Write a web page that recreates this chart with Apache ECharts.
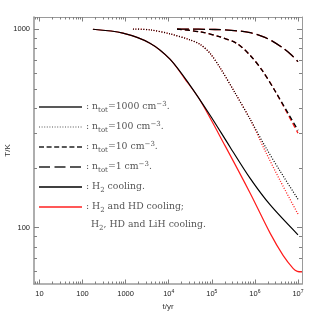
<!DOCTYPE html>
<html><head><meta charset="utf-8">
<script src="https://cdn.jsdelivr.net/npm/echarts@6/dist/echarts.min.js"></script>
<style>html,body{margin:0;padding:0;background:#fff}#c{width:319px;height:319px}</style>
</head><body><div id="c"></div>
<script>
// ---- data: [t (yr), T (K)] ----
const n1000_H2 = [[174,998],[865,954],[3670,849],[10700,705],[31300,521],[91300,368],[267000,254],[778000,177],[2270000,130],[10000000,92]];
const n1000_HD = [[174,998],[865,954],[3670,849],[10700,705],[23900,560],[53500,438],[204000,258],[778000,149],[2270000,93.5],[4550000,72.3],[7780000,62.2],[9630000,60.2],[12400000,59.8]];
const n100_H2 = [[1480,1000],[3670,991],[10700,946],[31300,882],[53500,837],[91300,754],[156000,638],[348000,476],[778000,351],[1740000,256],[3880000,192],[10000000,139]];
const n100_HD = [[1480,1000],[3670,991],[10700,946],[31300,882],[53500,837],[91300,754],[156000,638],[348000,476],[778000,351],[1740000,243],[3880000,172],[10000000,117]];
const n10_H2 = [[15600,1000],[53500,968],[156000,913],[388000,844],[778000,737],[1480000,619],[2970000,486],[10000000,309]];
const n10_HD = [[15600,1000],[53500,968],[156000,913],[388000,844],[778000,737],[1480000,619],[2970000,486],[10000000,299]];
const n1_H2 = [[15600,1000],[119000,995],[388000,980],[778000,959],[1480000,919],[2540000,870],[4340000,806],[6660000,749],[10000000,685]];
const n1_HD = [[15600,1000],[119000,995],[388000,980],[778000,959],[1480000,919],[2540000,870],[4340000,806],[6660000,749],[10000000,685]];

// ---- ticks (values) ----
const xMajor = [10,100,1000,1e4,1e5,1e6,1e7];
const xDecades = [1,10,100,1000,1e4,1e5,1e6];
const yMajor = [100,1000];
const yDecades = [10,100];
const mults = [2,3,4,5,6,7,8,9];

// ---- legend texts ----
const legendRows = [
  '{m|: n}{sub|tot}{m|=1000 cm}{sup|−3}{m|.}',
  '{m|: n}{sub|tot}{m|=100 cm}{sup|−3}{m|.}',
  '{m|: n}{sub|tot}{m|=10 cm}{sup|−3}{m|.}',
  '{m|: n}{sub|tot}{m|=1 cm}{sup|−3}{m|.}',
  '{m|: H}{sub|2}{m| cooling.}',
  '{m|: H}{sub|2}{m| and HD cooling;}',
  '{m|H}{sub|2}{m|, HD and LiH cooling.}'
];

const L = Math.log10;
const XMIN = L(7.48), XMAX = L(12400000), YMIN = L(52), YMAX = L(1150);
const xMinor = []; xDecades.forEach(d => mults.forEach(m => { const v = L(d*m); if (v >= XMIN) xMinor.push(v); }));
const yMinor = []; yDecades.forEach(d => mults.forEach(m => { const v = L(d*m); if (v >= YMIN) yMinor.push(v); }));
const xMajorL = xMajor.map(L), yMajorL = yMajor.map(L);

const axisGray = '#9a9a9a', tickGray = '#808080';
const labelFont = {fontFamily: 'Liberation Sans, Arial, sans-serif', fontSize: 7.5, color: '#222'};

function xAx(pos, ticks, len, showLabel, showLine) {
  return {
    type: 'value', position: pos, min: XMIN, max: XMAX, gridIndex: 0,
    axisLine: {show: showLine, onZero: false, lineStyle: {color: axisGray, width: pos==='bottom'?1.6:1}},
    axisTick: {show: true, inside: true, length: len, customValues: ticks, lineStyle: {color: tickGray, width: 1}},
    axisLabel: showLabel ? Object.assign({
      show: true, customValues: ticks, margin: 5,
      formatter: v => { const e = Math.round(v); return e <= 3 ? '{b|' + String(Math.round(Math.pow(10, e))) + '}' : '{b|10}{s|' + e + '}'; },
      rich: {b: Object.assign({}, labelFont, {lineHeight: 10}), s: Object.assign({}, labelFont, {fontSize: 5, lineHeight: 5, verticalAlign: 'top'})}
    }, labelFont) : {show: false},
    splitLine: {show: false}, minorTick: {show: false},
    name: showLabel ? 't/yr' : '', nameLocation: 'middle', nameGap: 17,
    nameTextStyle: {fontFamily: 'Liberation Sans, Arial, sans-serif', fontSize: 8, color: '#333'}
  };
}
function yAx(pos, ticks, len, showLabel, showLine) {
  return {
    type: 'value', position: pos, min: YMIN, max: YMAX, gridIndex: 0,
    axisLine: {show: showLine, onZero: false, lineStyle: {color: axisGray, width: pos==='left'?1.6:1}},
    axisTick: {show: true, inside: true, length: len, customValues: ticks, lineStyle: {color: tickGray, width: 1}},
    axisLabel: showLabel ? Object.assign({show: true, customValues: ticks, margin: 4, formatter: v => String(Math.round(Math.pow(10, v)))}, labelFont) : {show: false},
    splitLine: {show: false}, minorTick: {show: false},
    name: showLabel ? 'T/K' : '', nameLocation: 'middle', nameGap: 22, nameRotate: 90, nameMoveOverlap: false,
    nameTextStyle: {fontFamily: 'Liberation Sans, Arial, sans-serif', fontSize: 8, color: '#333'}
  };
}

function ser(name, data, color, type, width) {
  return {
    name, type: 'line', data: data.map(p => [L(p[0]), L(p[1])]), xAxisIndex: 0, yAxisIndex: 0,
    symbol: 'none', smooth: 0.3, clip: true,
    lineStyle: {color, width, type}
  };
}
const RED = '#ff1a1a', BLK = '#000000';
const DOT = [1, 1.6], DASH = [5, 3], LDASH = [12, 4];

const series = [
  ser('n1000 HD', n1000_HD, RED, 'solid', 1.2),
  ser('n100 HD', n100_HD, RED, DOT, 1.3),
  ser('n10 HD', n10_HD, RED, DASH, 1.3),
  ser('n1 HD', n1_HD, RED, LDASH, 1.3),
  ser('n1000 H2', n1000_H2, BLK, 'solid', 1.2),
  ser('n100 H2', n100_H2, BLK, DOT, 1.2),
  ser('n10 H2', n10_H2, BLK, DASH, 1.3),
  ser('n1 H2', n1_H2, BLK, LDASH, 1.3)
];

// legend graphics
const rowY = [107, 127, 147, 167, 187, 207, 225];
const sampleStyles = [
  {dash: null, color: '#222', w: 1.6},
  {dash: [1, 1.6], color: '#555', w: 1.2},
  {dash: [5, 2.6], color: '#222', w: 1.6},
  {dash: [11, 4.5], color: '#222', w: 1.6},
  {dash: null, color: '#000', w: 1.4},
  {dash: null, color: '#ff2020', w: 1.4}
];
const textColor = '#555';
const serif = 'DejaVu Serif, serif';
const rich = {
  m: {fontFamily: serif, fontSize: 9.3, fill: textColor, lineHeight: 13},
  sub: {fontFamily: serif, fontSize: 7, fill: textColor, lineHeight: 9, verticalAlign: 'bottom'},
  sup: {fontFamily: serif, fontSize: 7, fill: textColor, lineHeight: 9, verticalAlign: 'top'}
};
const graphics = [];
sampleStyles.forEach((s, i) => {
  graphics.push({type: 'line', silent: true, z: 10,
    shape: {x1: 39, y1: rowY[i], x2: 82, y2: rowY[i]},
    style: {stroke: s.color, lineWidth: s.w, lineDash: s.dash}});
});
legendRows.forEach((t, i) => {
  graphics.push({type: 'text', silent: true, z: 10,
    x: i === 6 ? 91 : 86, y: rowY[i],
    style: {text: t, rich, fontFamily: serif, fontSize: 9.3, fill: textColor, verticalAlign: 'middle', align: 'left'}});
});

const chart = echarts.init(document.getElementById('c'), null, {renderer: 'canvas'});
chart.setOption({
  animation: false,
  backgroundColor: '#fff',
  grid: {left: 34, right: 17, top: 17, bottom: 35, containLabel: false, outerBoundsMode: 'none'},
  xAxis: [
    xAx('bottom', xMajorL, 4.5, true, true),
    xAx('bottom', xMinor, 2.5, false, false),
    xAx('top', xMajorL, 4.5, false, true),
    xAx('top', xMinor, 2.5, false, false)
  ],
  yAxis: [
    yAx('left', yMajorL, 5, true, true),
    yAx('left', yMinor, 3, false, false),
    yAx('right', yMajorL, 5, false, true),
    yAx('right', yMinor, 3, false, false)
  ],
  series,
  graphic: graphics
});
</script>
</body></html>
